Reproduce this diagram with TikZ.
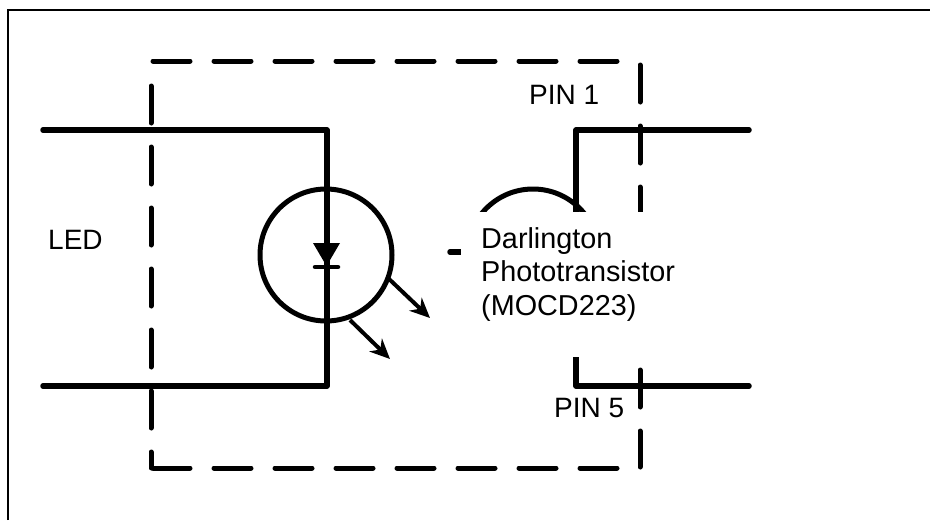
\documentclass[tikz,border=0pt]{standalone}
\usepackage{fontspec}
\setmainfont{Liberation Sans}
\usetikzlibrary{arrows.meta}

\tikzstyle{terminal} = [inner sep=0pt, outer sep=0pt]
\tikzstyle{wire} = [line width=5.5pt, line cap=round, line join=round]
\tikzstyle{boundary} = [line width=5pt, line cap=round, line join=round, dash pattern=on 37pt off 24pt]
\tikzstyle{ring} = [circle, draw, line width=5pt, inner sep=0pt, minimum size=132pt]
\tikzstyle{light} = [line width=4pt, -{Stealth[length=20pt,width=18pt]}]
\tikzstyle{lbl} = [font=\fontsize{28}{33}\selectfont, inner sep=0pt, anchor=base west]

\begin{document}
\begin{tikzpicture}[x=1pt,y=-1pt]
      \useasboundingbox (0,0) rectangle (930,520);

      % outer frame
      \coordinate (fa) at (8,520);
      \coordinate (fb) at (8,10);
      \coordinate (fc) at (930,10);
      \draw[line width=2.5pt] (fa) -- (fb) -- (fc);

      % package outline
      \coordinate (tl) at (153,61);
      \coordinate (tr) at (621,61);
      \coordinate (ra) at (640,65);
      \coordinate (rb) at (640,467);
      \coordinate (la) at (151,86);
      \coordinate (lb) at (151,468);
      \coordinate (ba) at (153,468);
      \coordinate (bb) at (621,468);
      \draw[boundary] (tl) -- (tr);
      \draw[boundary] (ra) -- (rb);
      \draw[boundary] (la) -- (lb);
      \draw[boundary] (ba) -- (bb);

      % LED side
      \coordinate[terminal] (a) at (43,130);
      \coordinate[terminal] (b) at (327,130);
      \coordinate[terminal] (c) at (327,386);
      \coordinate[terminal] (d) at (43,386);
      \draw[wire] (a) -- (b) -- (c) -- (d);
      \node[ring] (led) at (326,255) {};

      \coordinate (ta) at (313,243);
      \coordinate (tb) at (340,243);
      \coordinate (tc) at (326.5,266);
      \fill[line join=round] (ta) -- (tb) -- (tc) -- cycle;
      \coordinate (ka) at (315,267);
      \coordinate (kb) at (338,267);
      \draw[wire, line width=4.5pt] (ka) -- (kb);

      \coordinate (ra1) at (388,278);
      \coordinate (ra2) at (430,318);
      \coordinate (rb1) at (350,320);
      \coordinate (rb2) at (390,359);
      \draw[light] (ra1) -- (ra2);
      \draw[light] (rb1) -- (rb2);

      % transistor side
      \node[ring] (photo) at (533,255) {};
      \coordinate (base) at (450,252);
      \coordinate (basend) at (470,252);
      \draw[wire] (base) -- (basend);

      \coordinate[terminal] (e) at (749,130);
      \coordinate[terminal] (f) at (576,130);
      \coordinate[terminal] (g) at (576,220);
      \draw[wire] (e) -- (f) -- (g);

      \coordinate[terminal] (h) at (749,386);
      \coordinate[terminal] (i) at (576,386);
      \coordinate[terminal] (j) at (576,350);
      \draw[wire] (h) -- (i) -- (j);

      % cover box and its text
      \node[fill=white, anchor=north west, inner sep=0pt, minimum width=235pt, minimum height=145pt]
            (cover) at (461,212) {};
      \node[anchor=north west, inner sep=0pt, align=left, font=\fontsize{28.8}{33.5}\selectfont]
            (box) at (481,227) {Darlington\\Phototransistor\\(MOCD223)};

      \node[lbl] (pina) at (529,104) {PIN 1};
      \node[lbl] (pinb) at (554,417) {PIN 5};
      \node[lbl] (ledlbl) at (48,249) {LED};
    \end{tikzpicture}
\end{document}
